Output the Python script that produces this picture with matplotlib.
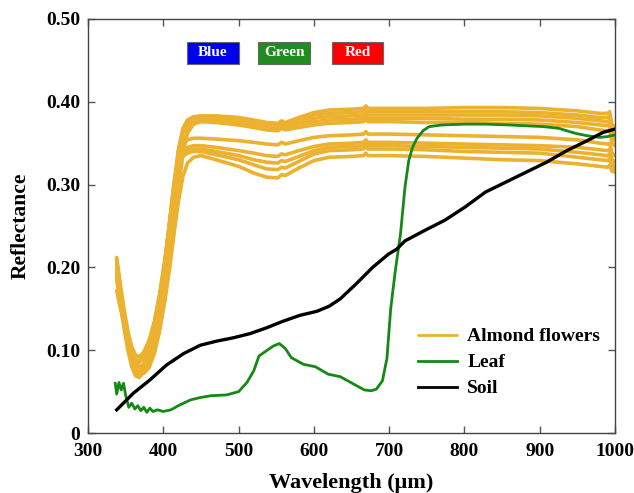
import matplotlib
matplotlib.use("Agg")
import matplotlib.pyplot as plt
from matplotlib.patches import Rectangle

plt.rcParams['font.family'] = ['Liberation Serif', 'DejaVu Serif']
plt.rcParams['font.weight'] = 'bold'

# ---------------- data ----------------
almond_wl = [338, 343, 348, 353, 358, 363, 368, 374, 381, 388, 395, 402, 408, 414,
             420, 426, 432, 440,
             450, 470, 500, 520, 537, 552, 557, 562, 580, 600, 620, 650, 666, 669,
             672, 700, 750, 800, 850, 900, 950, 980, 990, 993, 996, 1000]

almond_1 = [.212, .178, .148, .122, .104, .094, .092, .098, .112, .135, .168, .210, .252, .300, .343, .368, .378, .382,
            .383, .383, .381, .378, .375, .374, .377, .375, .381, .387, .390, .391, .392, .395, .392, .392, .392, .393, .393, .392, .389, .386, .386, .388, .372, .370]
almond_2 = [.205, .172, .142, .116, .097, .087, .085, .091, .106, .130, .162, .203, .245, .292, .336, .363, .375, .380,
            .381, .381, .379, .376, .373, .372, .375, .373, .379, .384, .386, .387, .388, .391, .388, .388, .388, .388, .388, .387, .384, .381, .381, .383, .366, .362]
almond_3 = [.185, .160, .137, .115, .097, .085, .080, .082, .093, .112, .140, .178, .218, .262, .308, .345, .367, .377,
            .380, .379, .377, .374, .371, .370, .373, .371, .376, .380, .382, .383, .384, .387, .384, .384, .384, .384, .384, .383, .380, .377, .376, .378, .360, .357]
almond_4 = [.208, .174, .144, .118, .099, .089, .087, .093, .108, .132, .165, .207, .250, .297, .340, .365, .374, .377,
            .378, .377, .375, .372, .369, .368, .371, .369, .373, .376, .378, .379, .380, .383, .380, .380, .380, .379, .379, .378, .375, .372, .371, .372, .356, .353]
almond_5 = [.190, .165, .142, .120, .100, .086, .078, .077, .085, .102, .128, .163, .200, .245, .295, .337, .362, .373,
            .376, .375, .372, .369, .366, .365, .368, .366, .369, .372, .374, .375, .376, .379, .376, .376, .375, .375, .374, .373, .370, .366, .365, .366, .350, .347]
almond_6 = [.202, .168, .137, .110, .090, .079, .077, .084, .101, .127, .162, .207, .252, .300, .335, .350, .354, .356,
            .356, .355, .353, .351, .349, .348, .351, .349, .353, .357, .359, .360, .361, .364, .361, .361, .360, .359, .358, .357, .354, .350, .349, .350, .338, .335]
almond_7 = [.193, .160, .130, .104, .084, .073, .071, .078, .095, .121, .157, .203, .250, .297, .328, .341, .345, .347,
            .347, .345, .341, .338, .335, .334, .337, .336, .341, .346, .349, .350, .351, .354, .351, .351, .350, .349, .348, .347, .345, .342, .341, .343, .330, .327]
almond_8 = [.198, .164, .133, .106, .086, .075, .073, .080, .097, .124, .160, .206, .253, .298, .327, .338, .342, .343,
            .343, .340, .335, .330, .327, .326, .329, .328, .334, .341, .345, .346, .347, .350, .347, .347, .346, .345, .344, .343, .339, .336, .335, .337, .324, .322]
almond_9 = [.190, .156, .125, .099, .080, .069, .067, .074, .091, .118, .155, .202, .250, .293, .322, .334, .338, .340,
            .340, .336, .330, .324, .319, .318, .321, .320, .328, .337, .341, .342, .343, .346, .343, .343, .342, .340, .339, .338, .333, .330, .329, .331, .320, .318]
almond_10 = [.172, .150, .130, .112, .095, .082, .074, .072, .079, .096, .123, .160, .198, .240, .280, .310, .326, .333,
             .335, .330, .322, .314, .309, .308, .312, .311, .320, .329, .333, .334, .335, .338, .335, .335, .334, .332, .330, .329, .325, .322, .321, .323, .316, .315]
almond_curves = [almond_1, almond_2, almond_3, almond_4, almond_5,
                 almond_6, almond_7, almond_8, almond_9, almond_10]

leaf_wl = [336, 338, 341, 344, 347, 350, 354, 358, 362, 366, 370, 374, 378, 382, 386,
           392, 400, 410, 420, 436, 450, 463, 484, 500, 511, 520, 527, 538, 546, 554,
           562, 570, 586, 602, 619, 635, 651, 667, 676, 683, 691, 697, 702, 708, 715,
           721, 726, 731, 737, 745, 753, 770, 800, 828, 860, 882, 905, 925, 947, 963,
           980, 990, 1000]
leaf_val = [.060, .047, .061, .052, .060, .045, .031, .036, .029, .033, .027, .031, .025, .030, .026,
            .028, .026, .028, .033, .040, .043, .045, .046, .050, .061, .075, .093, .100, .105, .108,
            .102, .091, .083, .080, .071, .068, .060, .052, .051, .053, .063, .090, .150, .195, .240,
            .297, .329, .345, .356, .365, .370, .372, .373, .373, .372, .371, .370, .368, .362, .359,
            .357, .358, .360]

soil_wl = [338, 360, 382, 404, 427, 449, 471, 493, 515, 537, 559, 581, 604, 620,
           635, 656, 678, 699, 710, 721, 748, 774, 801, 828, 855, 882, 909, 936,
           963, 984, 1000]
soil_val = [.028, .048, .064, .082, .096, .106, .111, .115, .120, .127, .135, .142, .147, .153,
            .162, .180, .200, .216, .222, .232, .245, .257, .273, .291, .303, .315, .327, .341,
            .353, .363, .367]

band_labels = ['Blue', 'Green', 'Red']
band_left = [431, 526, 624]
band_right = [500, 595, 692]
band_colors = ['#0000f0', '#1e8c1e', '#ff0000']

series_labels = ['Almond flowers', 'Leaf', 'Soil']
x_ticks = [300, 400, 500, 600, 700, 800, 900, 1000]
y_ticks = [0, 0.10, 0.20, 0.30, 0.40, 0.50]
y_tick_labels = ['0', '0.10', '0.20', '0.30', '0.40', '0.50']

# ---------------- plot ----------------
almond_color = '#ecb12f'
leaf_color = '#168816'

fig = plt.figure(figsize=(6.34, 4.93), dpi=100)
ax = fig.add_axes([0.139, 0.1217, 0.831, 0.8398])

for i, c in enumerate(almond_curves):
    ax.plot(almond_wl, c, color=almond_color, lw=2.6,
            label=series_labels[0] if i == 0 else None, solid_capstyle='round')
ax.plot(leaf_wl, leaf_val, color=leaf_color, lw=2.0, label=series_labels[1])
ax.plot(soil_wl, soil_val, color='black', lw=2.4, label=series_labels[2])

ax.set_xlim(300, 1000)
ax.set_ylim(0, 0.5)
ax.set_xticks(x_ticks)
ax.set_yticks(y_ticks)
ax.set_yticklabels(y_tick_labels)
ax.tick_params(direction='in', top=True, right=True, length=5, width=1,
               labelsize=14, color='#555555')
ax.tick_params(axis='x', pad=7.5)
ax.tick_params(axis='y', pad=5.5)
for lbl in ax.get_xticklabels() + ax.get_yticklabels():
    lbl.set_fontweight('bold')
for s in ax.spines.values():
    s.set_color('#444444')
    s.set_linewidth(1.0)

ax.set_xlabel('Wavelength (μm)', fontsize=16, fontweight='bold', labelpad=9)
ax.set_ylabel('Reflectance', fontsize=15.5, fontweight='bold', labelpad=11)

box_h = 0.0265
box_y = 0.459
for lab, x0, x1, col in zip(band_labels, band_left, band_right, band_colors):
    ax.add_patch(Rectangle((x0, box_y - box_h / 2), x1 - x0, box_h,
                           facecolor=col, edgecolor='#666666', lw=0.8, zorder=3))
    ax.text((x0 + x1) / 2, box_y, lab, color='white', fontsize=11,
            fontweight='bold', ha='center', va='center', zorder=4)

leg = ax.legend(loc='upper left', bbox_to_anchor=(0.600, 0.287), frameon=False,
                prop={'size': 14, 'weight': 'bold'}, handlelength=2.0,
                handletextpad=0.55, labelspacing=0.43, borderpad=0.2)
for h in leg.get_lines():
    h.set_linewidth(2.0)

fig.savefig('out.png', dpi=100)
